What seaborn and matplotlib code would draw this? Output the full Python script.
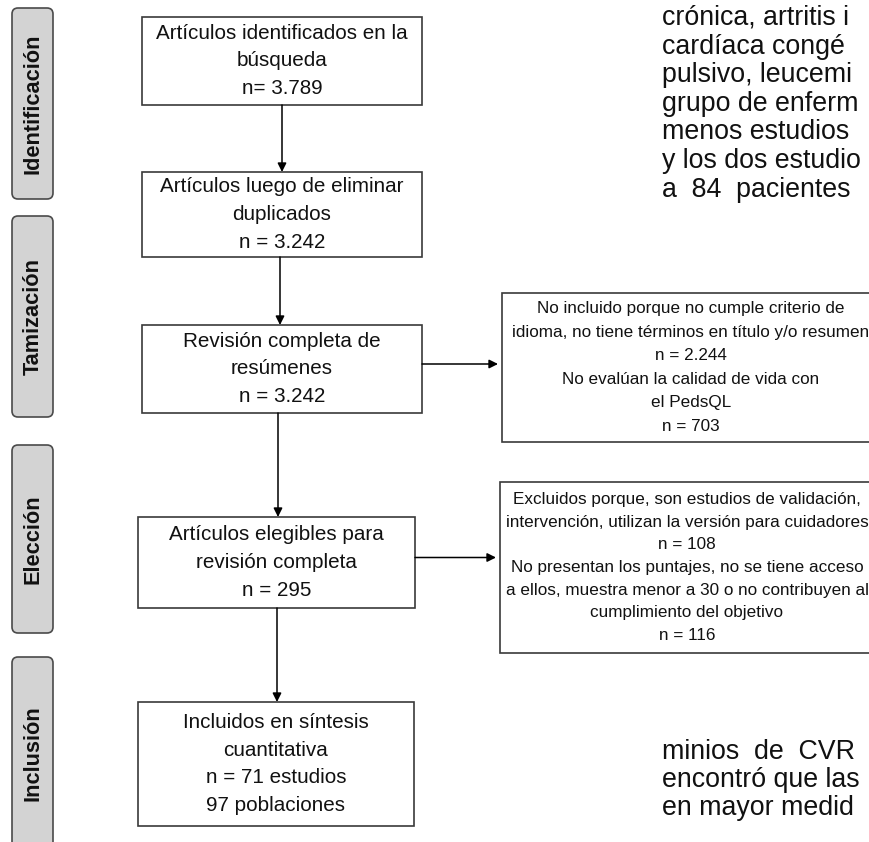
"""PRISMA-style flow diagram of the PedsQL literature search (with the page text around it)."""

import matplotlib.pyplot as plt
import seaborn as sns
from matplotlib import font_manager
from matplotlib.patches import FancyBboxPatch, Rectangle

# Stage labels on the left side.
STAGES = ["Identificación", "Tamización", "Elección", "Inclusión"]

# Counts that appear in the boxes.
MAIN_COUNTS = ["3.789", "3.242", "3.242", "295", "71"]
POPULATIONS = "97"
EXCLUDED_COUNTS_1 = ["2.244", "703"]
EXCLUDED_COUNTS_2 = ["108", "116"]

MAIN_BOX_LINES = [
    ["Artículos identificados en la", "búsqueda", f"n= {MAIN_COUNTS[0]}"],
    ["Artículos luego de eliminar", "duplicados", f"n = {MAIN_COUNTS[1]}"],
    ["Revisión completa de", "resúmenes", f"n = {MAIN_COUNTS[2]}"],
    ["Artículos elegibles para", "revisión completa", f"n = {MAIN_COUNTS[3]}"],
    ["Incluidos en síntesis", "cuantitativa", f"n = {MAIN_COUNTS[4]} estudios",
     f"{POPULATIONS} poblaciones"],
]

EXCLUSION_LINES = [
    [
        "No incluido porque no cumple criterio de",
        "idioma, no tiene términos en título y/o resumen",
        f"n = {EXCLUDED_COUNTS_1[0]}",
        "No evalúan la calidad de vida con",
        "el PedsQL",
        f"n = {EXCLUDED_COUNTS_1[1]}",
    ],
    [
        "Excluidos porque, son estudios de validación,",
        "intervención, utilizan la versión para cuidadores",
        f"n = {EXCLUDED_COUNTS_2[0]}",
        "No presentan los puntajes, no se tiene acceso",
        "a ellos, muestra menor a 30 o no contribuyen al",
        "cumplimiento del objetivo",
        f"n = {EXCLUDED_COUNTS_2[1]}",
    ],
]

# Body text of the page that the figure was cut out of (only the visible part).
PAGE_TEXT_TOP = [
    "crónica, artritis i",
    "cardíaca congé",
    "pulsivo, leucemi",
    "grupo de enferm",
    "menos estudios",
    "y los dos estudio",
    "a  84  pacientes",
]
PAGE_TEXT_BOTTOM = ["minios  de  CVR", "encontró que las", "en mayor medid"]

# Layout in pixel units (x, top, width, height).
W, H = 869, 842
STAGE_BOXES = [(12, 8, 41, 191), (12, 216, 41, 201), (12, 445, 41, 188), (12, 657, 41, 192)]
MAIN_BOXES = [(142, 17, 280, 88), (142, 172, 280, 85), (142, 325, 280, 88),
              (138, 517, 277, 91), (138, 702, 276, 124)]
EXCLUSION_BOXES = [(502, 293, 378, 149), (500, 482, 374, 171)]
DOWN_ARROW_X = [282, 280, 278, 277]

EDGE = "#3a3a3a"
STAGE_FILL = "#d3d3d3"


def pick_family(preferred, fallback):
    names = {f.name for f in font_manager.fontManager.ttflist}
    return preferred if preferred in names else fallback


def fit_size(fig, text, target_px, **font):
    """Font size (pt) that makes `text` about target_px wide."""
    renderer = fig.canvas.get_renderer()
    probe = fig.text(0, 0, text, fontsize=10, **font)
    width = probe.get_window_extent(renderer).width
    probe.remove()
    return 10 * target_px / width


def draw_lines(ax, lines, cx, cy, spacing, **font):
    n = len(lines)
    for i, line in enumerate(lines):
        y = cy + (i - (n - 1) / 2) * spacing
        ax.text(cx, y, line, ha="center", va="center", **font)


def main():
    sns.set_theme(style="white")
    regular = pick_family("Liberation Sans", "DejaVu Sans")
    narrow = pick_family("Liberation Sans Narrow", regular)
    plt.rcParams["font.family"] = [regular, "DejaVu Sans"]

    fig = plt.figure(figsize=(W / 100, H / 100), dpi=100)
    fig.patch.set_facecolor("white")
    ax = fig.add_axes([0, 0, 1, 1])
    ax.set_xlim(0, W)
    ax.set_ylim(H, 0)
    ax.axis("off")

    main_font = dict(family=regular, fontsize=fit_size(fig, MAIN_BOX_LINES[0][0], 253, family=regular),
                     color="#111111")
    excl_font = dict(family=narrow, fontsize=fit_size(fig, EXCLUSION_LINES[0][0], 309, family=narrow),
                     color="#111111")
    stage_font = dict(family=narrow, weight="bold", color="#111111",
                      fontsize=fit_size(fig, STAGES[0], 140, family=narrow, weight="bold"))
    page_font = dict(family=regular, color="#111111",
                     fontsize=fit_size(fig, PAGE_TEXT_TOP[4], 188, family=regular))

    # Stage labels.
    for (x, y, w, h), label in zip(STAGE_BOXES, STAGES):
        ax.add_patch(FancyBboxPatch((x, y), w, h, boxstyle="round,pad=0,rounding_size=6",
                                    facecolor=STAGE_FILL, edgecolor="#4a4a4a", lw=1.2))
        ax.text(x + w / 2 + 0.5, y + h / 2, label, rotation=90, ha="center", va="center",
                **stage_font)

    # Main flow boxes.
    for (x, y, w, h), lines in zip(MAIN_BOXES, MAIN_BOX_LINES):
        ax.add_patch(Rectangle((x, y), w, h, facecolor="white", edgecolor=EDGE, lw=1.2))
        draw_lines(ax, lines, x + w / 2, y + h / 2, 27.5, **main_font)

    # Exclusion boxes on the right.
    for (x, y, w, h), lines, spacing in zip(EXCLUSION_BOXES, EXCLUSION_LINES, [23.6, 22.6]):
        ax.add_patch(Rectangle((x, y), w, h, facecolor="white", edgecolor=EDGE, lw=1.2,
                               clip_on=False))
        draw_lines(ax, lines, x + w / 2, y + h / 2, spacing, **excl_font)

    arrow = dict(arrowstyle="-|>", color="black", lw=1.1, mutation_scale=13,
                 shrinkA=0, shrinkB=0)
    for i, x in enumerate(DOWN_ARROW_X):
        top = MAIN_BOXES[i][1] + MAIN_BOXES[i][3]
        bottom = MAIN_BOXES[i + 1][1]
        ax.annotate("", xy=(x, bottom), xytext=(x, top), arrowprops=arrow)
    for src, dst in zip([2, 3], EXCLUSION_BOXES):
        x, y, w, h = MAIN_BOXES[src]
        ax.annotate("", xy=(dst[0] - 4, y + h / 2 - 5), xytext=(x + w, y + h / 2 - 5),
                    arrowprops=arrow)

    # Surrounding page text.
    for i, line in enumerate(PAGE_TEXT_TOP):
        ax.text(662, 18 + i * 28.6, line, ha="left", va="center", **page_font)
    for i, line in enumerate(PAGE_TEXT_BOTTOM):
        ax.text(662, 752 + i * 28.0, line, ha="left", va="center", **page_font)

    fig.savefig("out.png", dpi=100)
    plt.close(fig)


if __name__ == "__main__":
    main()
